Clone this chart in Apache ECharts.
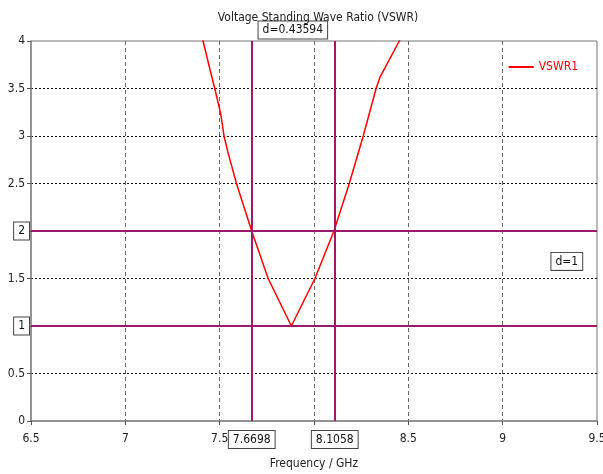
<!DOCTYPE html>
<html>
<head>
<meta charset="utf-8">
<script src="https://cdn.jsdelivr.net/npm/echarts@6/dist/echarts.min.js"></script>
<style>
  html, body { margin: 0; padding: 0; background: #fff; }
  #chart { width: 603px; height: 474px; }
</style>
</head>
<body>
<div id="chart"></div>
<script>
// VSWR1 curve
var freq = [7.39, 7.412, 7.45, 7.474, 7.506, 7.523, 7.545, 7.589, 7.6698, 7.757, 7.88, 8.005, 8.1058, 8.187, 8.261, 8.329, 8.35, 8.452, 8.47];
var vswr = [4.12, 4.0, 3.69, 3.5, 3.23, 3.0, 2.82, 2.5, 2.0, 1.5, 1.0, 1.5, 2.0, 2.5, 3.0, 3.5, 3.62, 4.0, 4.08];

// marker lines
var markerX = [7.6698, 8.1058];
var markerY = [2, 1];
var dxText = 'd=0.43594';
var dyText = 'd=1';
var dyPos = [9.34, 1.68];

var font = "'DejaVu Sans Condensed', 'Liberation Sans', sans-serif";
var markColor = '#9c1a6b';

var boxLabel = {
    backgroundColor: '#fff',
    borderColor: '#444',
    borderWidth: 1,
    padding: [3, 4, 2, 4],
    color: '#111',
    fontFamily: font,
    fontSize: 12
};

var chartDom = document.getElementById('chart');
var myChart = echarts.init(chartDom);

var lineData = freq.map(function (f, i) { return [f, vswr[i]]; });

var markLineData = [];
markerX.forEach(function (v) {
    markLineData.push({
        xAxis: v,
        label: Object.assign({ position: 'start', distance: 10, formatter: String(v) }, boxLabel)
    });
});
markerY.forEach(function (v) {
    markLineData.push({
        yAxis: v,
        label: Object.assign({ position: 'start', distance: 2, formatter: String(v) }, boxLabel)
    });
});

var option = {
    animation: false,
    title: {
        text: 'Voltage Standing Wave Ratio (VSWR)',
        left: 313,
        textAlign: 'center',
        top: 7,
        textStyle: { fontFamily: font, fontSize: 12, fontWeight: 'normal', color: '#222' }
    },
    legend: {
        data: [{ name: 'VSWR1', icon: 'rect' }],
        right: 20,
        top: 56,
        itemWidth: 25,
        itemHeight: 2,
        itemGap: 4,
        textStyle: { color: '#ff0000', fontFamily: font, fontSize: 12 }
    },
    grid: {
        left: 31,
        right: 6,
        top: 41,
        bottom: 53,
        outerBoundsMode: 'none',
        containLabel: false,
        show: true,
        borderColor: '#777',
        borderWidth: 1
    },
    xAxis: {
        type: 'value',
        min: 6.5,
        max: 9.5,
        interval: 0.5,
        name: 'Frequency / GHz',
        nameLocation: 'middle',
        nameGap: 37,
        nameTextStyle: { fontFamily: font, fontSize: 12, color: '#222' },
        axisLine: { lineStyle: { color: '#888', width: 1.5 } },
        axisTick: { show: true, length: 4, lineStyle: { color: '#555' } },
        axisLabel: { fontFamily: font, fontSize: 12, color: '#222', margin: 12 },
        splitLine: {
            show: true,
            showMinLine: false,
            showMaxLine: false,
            lineStyle: { color: '#666', type: [4, 3], width: 1 }
        }
    },
    yAxis: {
        type: 'value',
        min: 0,
        max: 4,
        interval: 0.5,
        axisLine: { show: true, lineStyle: { color: '#888', width: 1.5 } },
        axisTick: { show: true, length: 4, lineStyle: { color: '#555' } },
        axisLabel: { fontFamily: font, fontSize: 12, color: '#222', margin: 6 },
        splitLine: {
            show: true,
            showMinLine: false,
            showMaxLine: false,
            lineStyle: { color: '#111', type: [2, 2], width: 1 }
        }
    },
    series: [{
        name: 'VSWR1',
        type: 'line',
        data: lineData,
        symbol: 'none',
        clip: true,
        lineStyle: { color: '#ff0000', width: 1.5 },
        itemStyle: { color: '#ff0000' },
        markLine: {
            silent: true,
            symbol: 'none',
            lineStyle: { color: markColor, width: 2, type: 'solid' },
            data: markLineData
        },
        markPoint: {
            silent: true,
            symbol: 'rect',
            symbolSize: 1,
            itemStyle: { color: 'rgba(0,0,0,0)' },
            data: [
                {
                    coord: [(markerX[0] + markerX[1]) / 2, 4],
                    label: Object.assign({ show: true, position: 'inside', offset: [0, -11], formatter: dxText }, boxLabel)
                },
                {
                    coord: dyPos,
                    label: Object.assign({ show: true, position: 'inside', formatter: dyText }, boxLabel)
                }
            ]
        }
    }]
};

myChart.setOption(option);
</script>
</body>
</html>
